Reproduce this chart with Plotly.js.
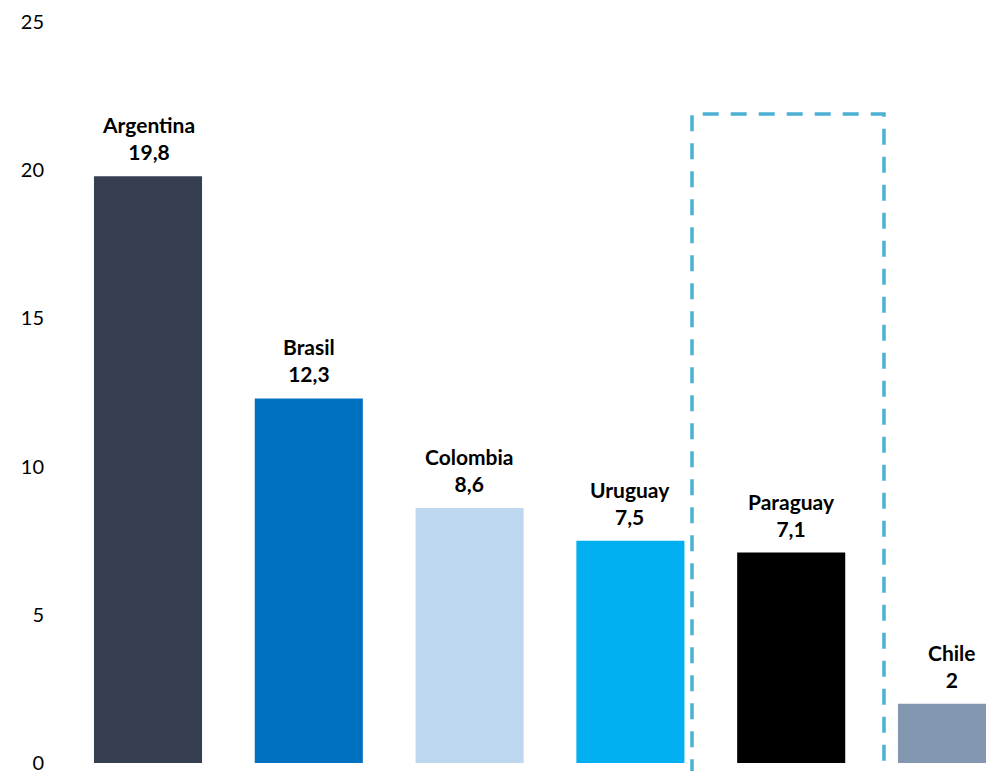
<!DOCTYPE html>
<html>
<head>
<meta charset="utf-8">
<script src="https://cdn.plot.ly/plotly-3.0.1.min.js"></script>
<style>html,body{margin:0;padding:0;background:#fff;}#chart{width:986px;height:771px;}</style>
</head>
<body>
<div id="chart"></div>
<script>
var categories = ['Argentina', 'Brasil', 'Colombia', 'Uruguay', 'Paraguay', 'Chile'];
var values = [19.8, 12.3, 8.6, 7.5, 7.1, 2];
var valueLabels = ['19,8', '12,3', '8,6', '7,5', '7,1', '2'];
var barColors = ['#353F51', '#0070C0', '#BDD7EE', '#00B0F0', '#000000', '#8497B0'];
var yTicks = [0, 5, 10, 15, 20, 25];
var highlighted = 'Paraguay';

var W = 986, H = 771, L = 45;
var pxPerCat = 160.8, firstCenter = 148;
var pxPerUnit = 29.64, zeroPx = 763;

var trace = {
  type: 'bar',
  x: categories,
  y: values,
  marker: {color: barColors},
  hoverinfo: 'none'
};

var annotations = categories.map(function (c, i) {
  return {
    x: c, y: values[i], xref: 'x', yref: 'y',
    text: '<b>' + c + '<br>' + valueLabels[i] + '</b>',
    showarrow: false, yanchor: 'bottom', yshift: 10,
    font: {family: 'Lato, sans-serif', size: 21, color: '#000'}
  };
});

var hi = categories.indexOf(highlighted);
var layout = {
  width: W, height: H,
  margin: {l: L, r: 0, t: 0, b: 0},
  paper_bgcolor: '#fff', plot_bgcolor: '#fff',
  showlegend: false,
  bargap: 0.328,
  xaxis: {
    type: 'category',
    range: [(L - firstCenter) / pxPerCat, (W - firstCenter) / pxPerCat],
    showticklabels: false, showgrid: false, zeroline: false, showline: false, ticks: ''
  },
  yaxis: {
    range: [-(H - zeroPx) / pxPerUnit, zeroPx / pxPerUnit],
    tickvals: yTicks, ticktext: yTicks.map(String),
    ticklabeloverflow: 'allow',
    showgrid: false, zeroline: false, showline: false, ticks: '',
    tickfont: {family: 'Lato, sans-serif', size: 20, color: '#000'}
  },
  annotations: annotations,
  shapes: [{
    type: 'rect', xref: 'x', yref: 'y',
    x0: hi - 0.617, x1: hi + 0.577, y0: -1, y1: 21.9,
    line: {color: '#4BB0D2', width: 3.5, dash: '16px,12px'},
    fillcolor: 'rgba(0,0,0,0)'
  }]
};

Plotly.newPlot('chart', [trace], layout, {displayModeBar: false, staticPlot: true});
</script>
</body>
</html>
